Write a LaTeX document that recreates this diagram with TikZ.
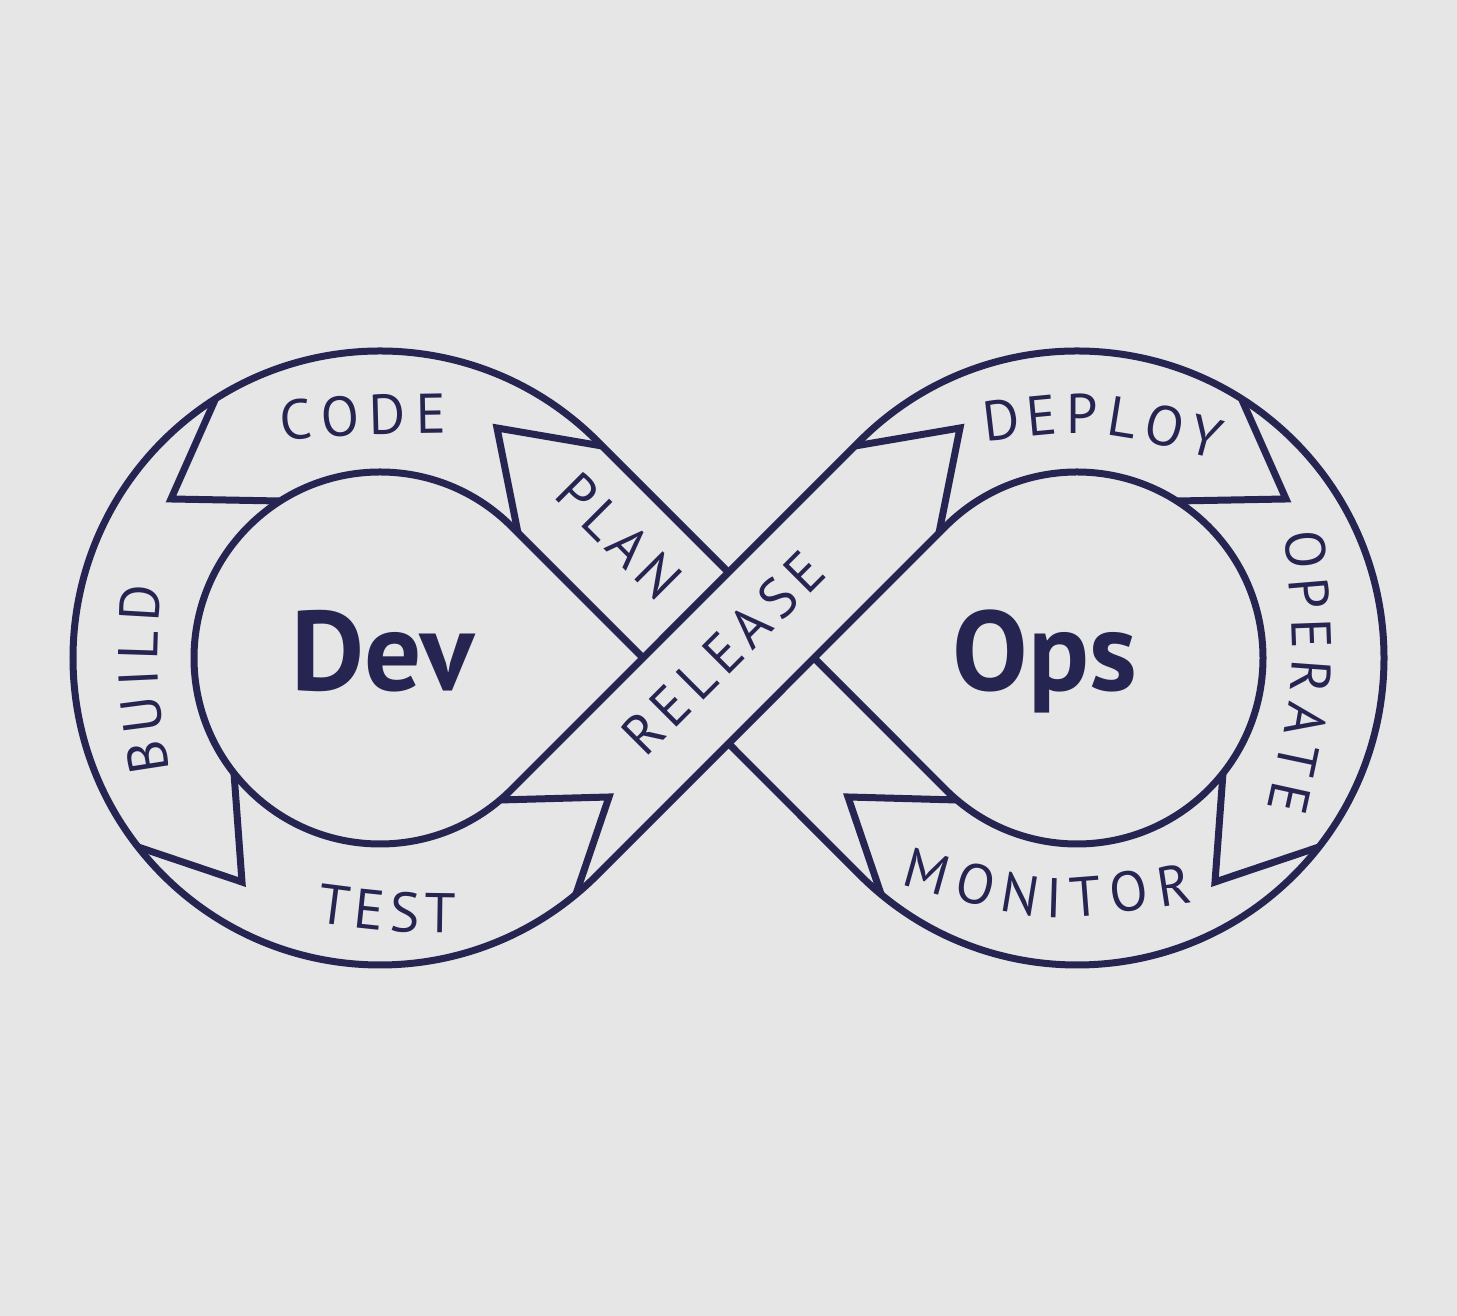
\documentclass[tikz,border=0pt]{standalone}
\usepackage{fontspec}
\setmainfont{PT Sans}
\usetikzlibrary{decorations.text}
\definecolor{navy}{HTML}{262552}
\definecolor{bg}{HTML}{E6E6E6}
\newcommand\lblfont{\fontsize{56}{60}\selectfont}
\begin{document}
\begin{tikzpicture}[x=1pt,y=1pt,
  ring/.style={draw=navy, line width=7pt, line join=round},
  sep/.style={draw=navy, line width=7pt, line join=miter, miter limit=12},
  lbl/.style={navy, decorate, decoration={text along path, text align=fit to path, text={|\lblfont\color{navy}|#1}}},
  big/.style={text=navy, font=\fontsize{113}{120}\selectfont\bfseries, inner sep=0pt, anchor=base}]
\fill[bg] (0,0) rectangle (1457,1316);
\useasboundingbox (0,0) rectangle (1457,1316);
\coordinate (L) at (380,658);
\coordinate (R) at (1077,658);
% continuous outlines of the figure eight
\draw[ring] (728.6,743.56) -- (597.08,875.08) arc[start angle=45, end angle=315, radius=307]
  -- (945.48,789.52) arc[start angle=135, end angle=-135, radius=186] -- (814.16,658);
\draw[ring] (643.04,658) -- (511.52,789.52) arc[start angle=45, end angle=315, radius=186]
  -- (859.92,875.08) arc[start angle=135, end angle=-135, radius=307] -- (728.6,572.44);
% separators (left loop)
\coordinate (cpO) at (602,870); \coordinate (cpA) at (497,888); \coordinate (cpI) at (518,783);
\coordinate (cbO) at (215,916); \coordinate (cbA) at (171,817); \coordinate (cbI) at (279,815);
\coordinate (btO) at (138,469); \coordinate (btA) at (242,434); \coordinate (btI) at (234,543);
\coordinate (trO) at (576,422); \coordinate (trA) at (609,519); \coordinate (trI) at (500,516);
% separators (right loop)
\coordinate (rdO) at (855,870); \coordinate (rdA) at (960,888); \coordinate (rdI) at (939,783);
\coordinate (doO) at (1242,916); \coordinate (doA) at (1286,817); \coordinate (doI) at (1178,815);
\coordinate (omO) at (1319,469); \coordinate (omA) at (1215,434); \coordinate (omI) at (1223,543);
\coordinate (mpO) at (881,422); \coordinate (mpA) at (848,519); \coordinate (mpI) at (957,516);
\foreach \s in {cp,cb,bt,tr,rd,do,om,mp}{
  \draw[sep] (\s O) -- (\s A) -- (\s I);
}
% labels
\path[lbl=CODE] (281,875) .. controls (362.8,881.7) .. (446,883);
\path[lbl=TEST] (316,393) .. controls (386,384) .. (456,383);
\path[lbl=BUILD] (170,545) .. controls (155.5,638.2) .. (161,730);
\path[lbl=OPERATE] (1284,783) .. controls (1297.5,645) .. (1267,507);
\path[lbl=DEPLOY] (985,874) .. controls (1099.8,887.7) .. (1216,856);
\path[lbl=MONITOR] (900,432) .. controls (1045.8,391) .. (1193,414);
\path[lbl=PLAN] (552,819) -- (658,713);
\path[lbl=RELEASE] (645,557) -- (829,741);
\node[big] (dev) at (382.5,625) {Dev};
\node[big] (ops) at (1045,625) {Ops};
\end{tikzpicture}
\end{document}
